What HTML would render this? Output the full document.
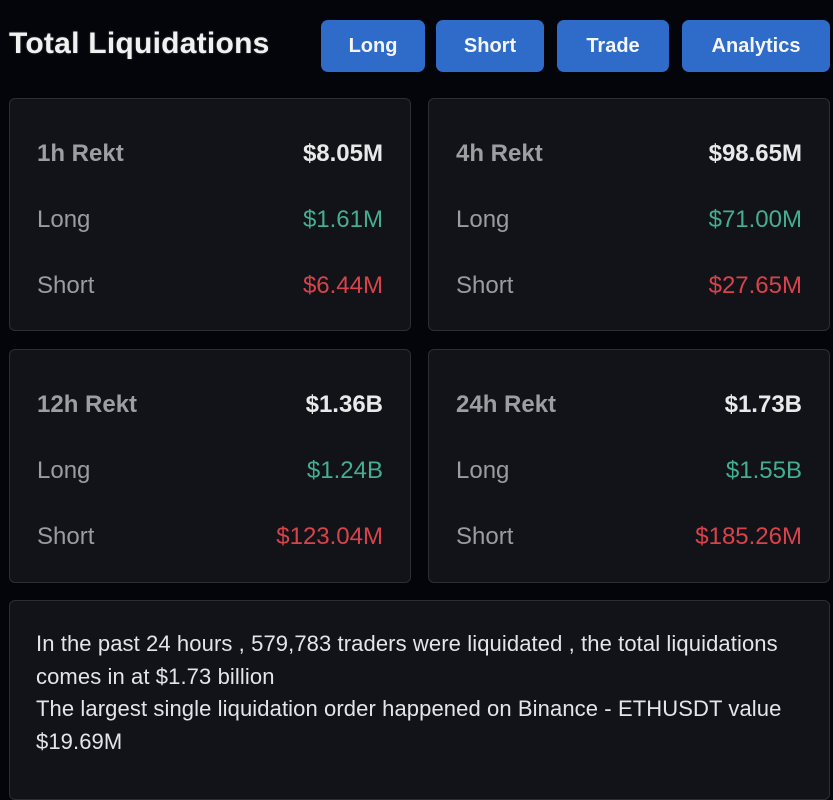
<!DOCTYPE html>
<html>
<head>
<meta charset="utf-8">
<style>
  html, body { margin:0; padding:0; }
  body {
    width:833px; height:779px; overflow:hidden;
    background:#04050a;
    position:relative;
    font-family:"Liberation Sans", "DejaVu Sans", sans-serif;
  }
  .title {
    position:absolute; left:9px; top:27px;
    font-size:30px; line-height:34px; font-weight:bold;
    color:#f1f1f1; white-space:nowrap; letter-spacing:0.25px;
    text-shadow:0 0 2px rgba(255,255,255,0.25);
  }
  .btn {
    position:absolute; top:19.5px; height:52px;
    background:#2f6bc8; border-radius:7px;
    color:#f4f6fa; font-weight:bold; font-size:20px;
    line-height:52px; text-align:center;
  }
  .card {
    position:absolute;
    background:#111318;
    border:1px solid #2a2e35;
    border-radius:6px;
    box-sizing:border-box;
  }
  .row {
    position:absolute; left:0; right:0; height:30px;
    font-size:24px; line-height:30px;
  }
  .row .l { position:absolute; left:27px; top:0; color:#9a9ca1; white-space:nowrap; }
  .row .v { position:absolute; right:27px; top:0; white-space:nowrap; }
  .row.h .l { font-weight:bold; color:#9c9ea3; }
  .row.h .v { font-weight:bold; color:#e9e9ea; }
  .g { color:#45ae8e; }
  .r { color:#d8434b; }
  .txt {
    position:absolute; left:36px; top:628px;
    font-size:22px; line-height:32.5px; color:#e4e5e7;
    letter-spacing:0.1px;
  }
  .txt div { white-space:nowrap; }
</style>
</head>
<body>
  <div class="title">Total Liquidations</div>
  <div class="btn" style="left:321px; width:104px;">Long</div>
  <div class="btn" style="left:436px; width:108px;">Short</div>
  <div class="btn" style="left:557px; width:112px;">Trade</div>
  <div class="btn" style="left:682px; width:148px;">Analytics</div>

  <!-- card 1 -->
  <div class="card" style="left:9px; top:98px; width:402px; height:233px;">
    <div class="row h" style="top:40px;"><span class="l">1h Rekt</span><span class="v">$8.05M</span></div>
    <div class="row" style="top:106px;"><span class="l">Long</span><span class="v g">$1.61M</span></div>
    <div class="row" style="top:172px;"><span class="l">Short</span><span class="v r">$6.44M</span></div>
  </div>

  <!-- card 2 -->
  <div class="card" style="left:428px; top:98px; width:402px; height:233px;">
    <div class="row h" style="top:40px;"><span class="l">4h Rekt</span><span class="v">$98.65M</span></div>
    <div class="row" style="top:106px;"><span class="l">Long</span><span class="v g">$71.00M</span></div>
    <div class="row" style="top:172px;"><span class="l">Short</span><span class="v r">$27.65M</span></div>
  </div>

  <!-- card 3 -->
  <div class="card" style="left:9px; top:349px; width:402px; height:234px;">
    <div class="row h" style="top:40px;"><span class="l">12h Rekt</span><span class="v">$1.36B</span></div>
    <div class="row" style="top:106px;"><span class="l">Long</span><span class="v g">$1.24B</span></div>
    <div class="row" style="top:172px;"><span class="l">Short</span><span class="v r">$123.04M</span></div>
  </div>

  <!-- card 4 -->
  <div class="card" style="left:428px; top:349px; width:402px; height:234px;">
    <div class="row h" style="top:40px;"><span class="l">24h Rekt</span><span class="v">$1.73B</span></div>
    <div class="row" style="top:106px;"><span class="l">Long</span><span class="v g">$1.55B</span></div>
    <div class="row" style="top:172px;"><span class="l">Short</span><span class="v r">$185.26M</span></div>
  </div>

  <!-- bottom card -->
  <div class="card" style="left:9px; top:600px; width:821px; height:200px;"></div>
  <div class="txt">
    <div>In the past 24 hours , 579,783 traders were liquidated , the total liquidations</div>
    <div>comes in at $1.73 billion</div>
    <div>The largest single liquidation order happened on Binance - ETHUSDT value</div>
    <div>$19.69M</div>
  </div>
</body>
</html>
